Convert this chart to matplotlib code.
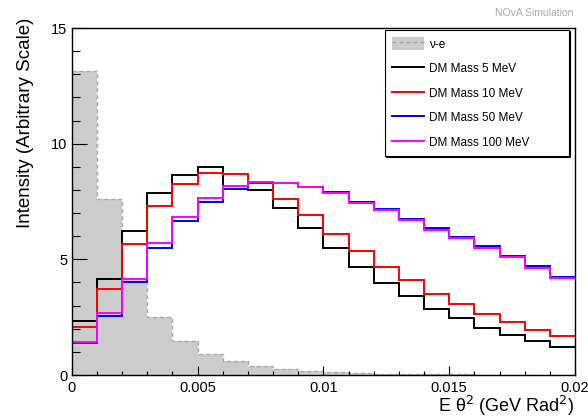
import matplotlib
matplotlib.use("Agg")
import matplotlib.pyplot as plt
from matplotlib.patches import Patch
from matplotlib.lines import Line2D
from matplotlib.ticker import MultipleLocator
import numpy as np

plt.rcParams['font.family'] = ['Liberation Sans', 'DejaVu Sans']

# bin edges in E*theta^2 (20 bins of 0.001)
edges = np.linspace(0.0, 0.02, 21)

# nu-e background
nue = [13.16, 7.60, 4.21, 2.50, 1.47, 0.89, 0.61, 0.39, 0.27, 0.18,
       0.12, 0.08, 0.06, 0.04, 0.03, 0.03, 0.02, 0.02, 0.01, 0.01]
# dark matter signal, by mass
dm5 = [2.35, 4.16, 6.23, 7.86, 8.66, 8.98, 8.04, 8.02, 7.21, 6.37,
       5.48, 4.67, 3.99, 3.40, 2.86, 2.45, 2.05, 1.74, 1.47, 1.22]
dm10 = [2.06, 3.71, 5.66, 7.30, 8.25, 8.73, 8.68, 8.29, 7.60, 6.91,
        6.11, 5.35, 4.69, 4.09, 3.52, 3.07, 2.62, 2.29, 1.96, 1.67]
dm50 = [1.37, 2.57, 4.01, 5.48, 6.67, 7.50, 8.04, 8.29, 8.29, 8.15,
        7.90, 7.47, 7.18, 6.75, 6.34, 5.97, 5.57, 5.16, 4.72, 4.25]
dm100 = [1.44, 2.66, 4.16, 5.69, 6.81, 7.65, 8.18, 8.33, 8.29, 8.13,
         7.88, 7.45, 7.15, 6.70, 6.29, 5.91, 5.51, 5.11, 4.64, 4.20]

labels = ["DM Mass 5 MeV", "DM Mass 10 MeV", "DM Mass 50 MeV", "DM Mass 100 MeV"]
colors = ["black", "#ff0000", "#0000ff", "#ff00ff"]

fig = plt.figure(figsize=(5.88, 4.19), dpi=100)
ax = fig.add_axes([0.122, 0.105, 0.856, 0.828])

# background: filled grey with dashed outline
ax.stairs(nue, edges, fill=True, color="#cccccc", lw=0)
ax.stairs(nue, edges, baseline=None, color="#aaaaaa", lw=1.0, ls=(0, (3, 2)))

for vals, c in zip([dm5, dm10, dm50, dm100], colors):
    ax.stairs(vals, edges, baseline=None, color=c, lw=1.4)

ax.set_xlim(0, 0.02)
ax.set_ylim(0, 15)
ax.set_xticks([0, 0.005, 0.01, 0.015, 0.02])
ax.set_xticklabels(["0", "0.005", "0.01", "0.015", "0.02"])
ax.set_yticks([0, 5, 10, 15])
ax.xaxis.set_minor_locator(MultipleLocator(0.001))
ax.yaxis.set_minor_locator(MultipleLocator(1))
ax.tick_params(which="both", direction="in", labelsize=10.5, width=0.8)
ax.tick_params(axis="y", which="major", length=10.5, pad=3)
ax.tick_params(axis="y", which="minor", length=5.5)
ax.tick_params(axis="x", which="major", length=6.5, pad=4)
ax.tick_params(axis="x", which="minor", length=3.2)
for s in ax.spines.values():
    s.set_linewidth(1.0)

fig.text(0.044, 0.957, "Intensity (Arbitrary Scale)", rotation=90,
         ha="center", va="top", fontsize=13.5)
fig.text(0.976, 0.002, "E θ$^2$ (GeV Rad$^2$)", ha="right", va="bottom",
         fontsize=13)
fig.text(0.975, 0.957, "NOvA Simulation", ha="right", va="bottom",
         fontsize=7.5, color="#aaaaaa")

nue_handle = (Patch(facecolor="#cccccc", edgecolor="none"),
              Line2D([], [], color="#aaaaaa", lw=1.0, ls=(0, (3, 2))))
handles = [nue_handle] + [Line2D([], [], color=c, lw=1.4) for c in colors]
leg = ax.legend(handles, ["ν-e"] + labels, loc="upper left",
                bbox_to_anchor=(0.6225, 0.629, 0.366, 0.365), mode="expand",
                fontsize=8.5, frameon=True, fancybox=False, edgecolor="black",
                framealpha=1, borderaxespad=0, borderpad=0.6, labelspacing=0.95,
                handlelength=2.7, handleheight=1.3, handletextpad=0.45,
                shadow={"color": "black", "alpha": 1, "ox": 0.8, "oy": -0.8})
leg.get_frame().set_linewidth(0.8)

fig.savefig("out.png", dpi=100)
